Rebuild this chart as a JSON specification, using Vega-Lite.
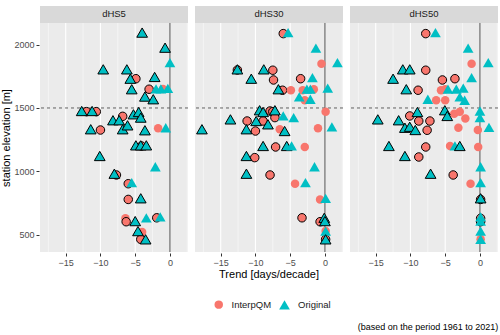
{
"$schema": "https://vega.github.io/schema/vega-lite/v6.json",
"padding": {"left": 0, "top": 5, "right": 4, "bottom": 5},
"background": "white",
"title": {"text": "(based on the period 1961 to 2021)", "orient": "bottom", "anchor": "end", "fontSize": 9, "fontWeight": "normal", "font": "Liberation Sans", "color": "black", "offset": 13},
"datasets": {
"d": [
{"panel":"dHS5","type":"InterpQM","trend":-4.9,"elev":1731,"sig":"1"},
{"panel":"dHS5","type":"InterpQM","trend":-3.0,"elev":1648,"sig":"1"},
{"panel":"dHS5","type":"InterpQM","trend":-1.0,"elev":1650,"sig":"0"},
{"panel":"dHS5","type":"InterpQM","trend":-12.0,"elev":1471,"sig":"1"},
{"panel":"dHS5","type":"InterpQM","trend":-10.6,"elev":1471,"sig":"1"},
{"panel":"dHS5","type":"InterpQM","trend":-6.8,"elev":1434,"sig":"1"},
{"panel":"dHS5","type":"InterpQM","trend":-10.0,"elev":1326,"sig":"1"},
{"panel":"dHS5","type":"InterpQM","trend":-1.7,"elev":1340,"sig":"0"},
{"panel":"dHS5","type":"InterpQM","trend":-4.1,"elev":1200,"sig":"1"},
{"panel":"dHS5","type":"InterpQM","trend":-7.7,"elev":971,"sig":"1"},
{"panel":"dHS5","type":"InterpQM","trend":-6.0,"elev":902,"sig":"1"},
{"panel":"dHS5","type":"InterpQM","trend":-6.0,"elev":778,"sig":"1"},
{"panel":"dHS5","type":"InterpQM","trend":-6.4,"elev":629,"sig":"0"},
{"panel":"dHS5","type":"InterpQM","trend":-6.3,"elev":602,"sig":"1"},
{"panel":"dHS5","type":"InterpQM","trend":-1.9,"elev":633,"sig":"1"},
{"panel":"dHS5","type":"InterpQM","trend":-4.0,"elev":520,"sig":"0"},
{"panel":"dHS5","type":"InterpQM","trend":-4.2,"elev":463,"sig":"1"},
{"panel":"dHS30","type":"InterpQM","trend":-6.0,"elev":2087,"sig":"1"},
{"panel":"dHS30","type":"InterpQM","trend":-0.5,"elev":1850,"sig":"0"},
{"panel":"dHS30","type":"InterpQM","trend":-12.6,"elev":1800,"sig":"1"},
{"panel":"dHS30","type":"InterpQM","trend":-7.5,"elev":1798,"sig":"1"},
{"panel":"dHS30","type":"InterpQM","trend":-7.4,"elev":1721,"sig":"1"},
{"panel":"dHS30","type":"InterpQM","trend":-3.5,"elev":1731,"sig":"1"},
{"panel":"dHS30","type":"InterpQM","trend":-6.1,"elev":1640,"sig":"1"},
{"panel":"dHS30","type":"InterpQM","trend":-4.9,"elev":1640,"sig":"0"},
{"panel":"dHS30","type":"InterpQM","trend":-3.2,"elev":1640,"sig":"0"},
{"panel":"dHS30","type":"InterpQM","trend":-1.6,"elev":1648,"sig":"0"},
{"panel":"dHS30","type":"InterpQM","trend":-2.9,"elev":1561,"sig":"0"},
{"panel":"dHS30","type":"InterpQM","trend":0.1,"elev":1471,"sig":"0"},
{"panel":"dHS30","type":"InterpQM","trend":-7.9,"elev":1476,"sig":"1"},
{"panel":"dHS30","type":"InterpQM","trend":-7.5,"elev":1471,"sig":"1"},
{"panel":"dHS30","type":"InterpQM","trend":-11.2,"elev":1397,"sig":"1"},
{"panel":"dHS30","type":"InterpQM","trend":-7.2,"elev":1424,"sig":"1"},
{"panel":"dHS30","type":"InterpQM","trend":-8.9,"elev":1397,"sig":"1"},
{"panel":"dHS30","type":"InterpQM","trend":-1.0,"elev":1340,"sig":"0"},
{"panel":"dHS30","type":"InterpQM","trend":-10.0,"elev":1318,"sig":"1"},
{"panel":"dHS30","type":"InterpQM","trend":-6.5,"elev":1332,"sig":"0"},
{"panel":"dHS30","type":"InterpQM","trend":-7.1,"elev":1192,"sig":"1"},
{"panel":"dHS30","type":"InterpQM","trend":-2.9,"elev":1192,"sig":"0"},
{"panel":"dHS30","type":"InterpQM","trend":-10.1,"elev":1108,"sig":"1"},
{"panel":"dHS30","type":"InterpQM","trend":-7.9,"elev":971,"sig":"1"},
{"panel":"dHS30","type":"InterpQM","trend":-4.3,"elev":902,"sig":"0"},
{"panel":"dHS30","type":"InterpQM","trend":-0.7,"elev":778,"sig":"0"},
{"panel":"dHS30","type":"InterpQM","trend":-3.3,"elev":633,"sig":"1"},
{"panel":"dHS30","type":"InterpQM","trend":-0.7,"elev":602,"sig":"1"},
{"panel":"dHS30","type":"InterpQM","trend":0.1,"elev":528,"sig":"0"},
{"panel":"dHS30","type":"InterpQM","trend":0.1,"elev":463,"sig":"1"},
{"panel":"dHS50","type":"InterpQM","trend":-7.8,"elev":2087,"sig":"1"},
{"panel":"dHS50","type":"InterpQM","trend":-1.2,"elev":1850,"sig":"0"},
{"panel":"dHS50","type":"InterpQM","trend":-7.8,"elev":1798,"sig":"1"},
{"panel":"dHS50","type":"InterpQM","trend":-5.4,"elev":1721,"sig":"1"},
{"panel":"dHS50","type":"InterpQM","trend":-3.6,"elev":1731,"sig":"1"},
{"panel":"dHS50","type":"InterpQM","trend":-8.9,"elev":1640,"sig":"1"},
{"panel":"dHS50","type":"InterpQM","trend":-5.6,"elev":1640,"sig":"0"},
{"panel":"dHS50","type":"InterpQM","trend":-5.0,"elev":1648,"sig":"0"},
{"panel":"dHS50","type":"InterpQM","trend":-6.3,"elev":1561,"sig":"0"},
{"panel":"dHS50","type":"InterpQM","trend":-5.0,"elev":1561,"sig":"0"},
{"panel":"dHS50","type":"InterpQM","trend":-10.1,"elev":1437,"sig":"1"},
{"panel":"dHS50","type":"InterpQM","trend":-8.8,"elev":1397,"sig":"1"},
{"panel":"dHS50","type":"InterpQM","trend":-7.2,"elev":1397,"sig":"1"},
{"panel":"dHS50","type":"InterpQM","trend":-3.7,"elev":1455,"sig":"0"},
{"panel":"dHS50","type":"InterpQM","trend":-2.9,"elev":1471,"sig":"0"},
{"panel":"dHS50","type":"InterpQM","trend":-2.1,"elev":1416,"sig":"0"},
{"panel":"dHS50","type":"InterpQM","trend":-7.6,"elev":1324,"sig":"1"},
{"panel":"dHS50","type":"InterpQM","trend":-3.1,"elev":1344,"sig":"0"},
{"panel":"dHS50","type":"InterpQM","trend":-0.3,"elev":1326,"sig":"0"},
{"panel":"dHS50","type":"InterpQM","trend":-7.8,"elev":1192,"sig":"1"},
{"panel":"dHS50","type":"InterpQM","trend":-4.3,"elev":1200,"sig":"0"},
{"panel":"dHS50","type":"InterpQM","trend":-0.25,"elev":1192,"sig":"0"},
{"panel":"dHS50","type":"InterpQM","trend":-8.8,"elev":1113,"sig":"1"},
{"panel":"dHS50","type":"InterpQM","trend":-3.85,"elev":971,"sig":"1"},
{"panel":"dHS50","type":"InterpQM","trend":-1.35,"elev":902,"sig":"0"},
{"panel":"dHS50","type":"InterpQM","trend":0.1,"elev":778,"sig":"1"},
{"panel":"dHS50","type":"InterpQM","trend":0.1,"elev":629,"sig":"1"},
{"panel":"dHS50","type":"InterpQM","trend":0.1,"elev":602,"sig":"1"},
{"panel":"dHS50","type":"InterpQM","trend":0.1,"elev":463,"sig":"0"},
{"panel":"dHS5","type":"Original","trend":-4.0,"elev":2095,"sig":"1"},
{"panel":"dHS5","type":"Original","trend":-0.7,"elev":1976,"sig":"1"},
{"panel":"dHS5","type":"Original","trend":0.0,"elev":1858,"sig":"0"},
{"panel":"dHS5","type":"Original","trend":-9.6,"elev":1805,"sig":"1"},
{"panel":"dHS5","type":"Original","trend":-6.2,"elev":1805,"sig":"1"},
{"panel":"dHS5","type":"Original","trend":-5.7,"elev":1731,"sig":"1"},
{"panel":"dHS5","type":"Original","trend":-2.2,"elev":1745,"sig":"1"},
{"panel":"dHS5","type":"Original","trend":-5.5,"elev":1648,"sig":"1"},
{"panel":"dHS5","type":"Original","trend":-2.0,"elev":1650,"sig":"0"},
{"panel":"dHS5","type":"Original","trend":-1.3,"elev":1650,"sig":"0"},
{"panel":"dHS5","type":"Original","trend":-0.3,"elev":1655,"sig":"0"},
{"panel":"dHS5","type":"Original","trend":-3.6,"elev":1590,"sig":"1"},
{"panel":"dHS5","type":"Original","trend":-2.4,"elev":1569,"sig":"1"},
{"panel":"dHS5","type":"Original","trend":-12.7,"elev":1476,"sig":"1"},
{"panel":"dHS5","type":"Original","trend":-11.2,"elev":1476,"sig":"1"},
{"panel":"dHS5","type":"Original","trend":-8.2,"elev":1403,"sig":"1"},
{"panel":"dHS5","type":"Original","trend":-7.3,"elev":1403,"sig":"1"},
{"panel":"dHS5","type":"Original","trend":-5.25,"elev":1450,"sig":"1"},
{"panel":"dHS5","type":"Original","trend":-4.5,"elev":1468,"sig":"1"},
{"panel":"dHS5","type":"Original","trend":-4.2,"elev":1424,"sig":"1"},
{"panel":"dHS5","type":"Original","trend":-11.4,"elev":1332,"sig":"1"},
{"panel":"dHS5","type":"Original","trend":-6.8,"elev":1332,"sig":"1"},
{"panel":"dHS5","type":"Original","trend":-6.1,"elev":1363,"sig":"1"},
{"panel":"dHS5","type":"Original","trend":-3.6,"elev":1324,"sig":"1"},
{"panel":"dHS5","type":"Original","trend":-0.6,"elev":1344,"sig":"0"},
{"panel":"dHS5","type":"Original","trend":-4.9,"elev":1205,"sig":"1"},
{"panel":"dHS5","type":"Original","trend":-4.2,"elev":1205,"sig":"1"},
{"panel":"dHS5","type":"Original","trend":-3.4,"elev":1205,"sig":"1"},
{"panel":"dHS5","type":"Original","trend":-10.1,"elev":1121,"sig":"1"},
{"panel":"dHS5","type":"Original","trend":-2.1,"elev":1036,"sig":"0"},
{"panel":"dHS5","type":"Original","trend":-8.0,"elev":981,"sig":"1"},
{"panel":"dHS5","type":"Original","trend":-5.5,"elev":910,"sig":"0"},
{"panel":"dHS5","type":"Original","trend":-4.2,"elev":787,"sig":"1"},
{"panel":"dHS5","type":"Original","trend":-5.0,"elev":607,"sig":"1"},
{"panel":"dHS5","type":"Original","trend":-3.4,"elev":633,"sig":"0"},
{"panel":"dHS5","type":"Original","trend":-1.4,"elev":641,"sig":"0"},
{"panel":"dHS5","type":"Original","trend":-4.6,"elev":528,"sig":"1"},
{"panel":"dHS5","type":"Original","trend":-3.5,"elev":463,"sig":"1"},
{"panel":"dHS30","type":"Original","trend":-5.3,"elev":2095,"sig":"0"},
{"panel":"dHS30","type":"Original","trend":-1.3,"elev":1972,"sig":"0"},
{"panel":"dHS30","type":"Original","trend":1.8,"elev":1858,"sig":"0"},
{"panel":"dHS30","type":"Original","trend":-12.6,"elev":1805,"sig":"1"},
{"panel":"dHS30","type":"Original","trend":-8.8,"elev":1805,"sig":"1"},
{"panel":"dHS30","type":"Original","trend":-10.6,"elev":1731,"sig":"1"},
{"panel":"dHS30","type":"Original","trend":-1.8,"elev":1739,"sig":"0"},
{"panel":"dHS30","type":"Original","trend":-6.7,"elev":1648,"sig":"1"},
{"panel":"dHS30","type":"Original","trend":-2.6,"elev":1648,"sig":"0"},
{"panel":"dHS30","type":"Original","trend":-2.1,"elev":1648,"sig":"0"},
{"panel":"dHS30","type":"Original","trend":0.4,"elev":1656,"sig":"0"},
{"panel":"dHS30","type":"Original","trend":-3.7,"elev":1587,"sig":"0"},
{"panel":"dHS30","type":"Original","trend":-2.1,"elev":1569,"sig":"0"},
{"panel":"dHS30","type":"Original","trend":-9.4,"elev":1482,"sig":"1"},
{"panel":"dHS30","type":"Original","trend":-8.9,"elev":1468,"sig":"1"},
{"panel":"dHS30","type":"Original","trend":-7.2,"elev":1482,"sig":"1"},
{"panel":"dHS30","type":"Original","trend":-6.0,"elev":1437,"sig":"0"},
{"panel":"dHS30","type":"Original","trend":-4.5,"elev":1424,"sig":"0"},
{"panel":"dHS30","type":"Original","trend":-13.6,"elev":1410,"sig":"1"},
{"panel":"dHS30","type":"Original","trend":-9.9,"elev":1397,"sig":"1"},
{"panel":"dHS30","type":"Original","trend":-8.2,"elev":1371,"sig":"1"},
{"panel":"dHS30","type":"Original","trend":-17.7,"elev":1332,"sig":"1"},
{"panel":"dHS30","type":"Original","trend":-11.3,"elev":1332,"sig":"1"},
{"panel":"dHS30","type":"Original","trend":-5.8,"elev":1318,"sig":"1"},
{"panel":"dHS30","type":"Original","trend":1.0,"elev":1350,"sig":"0"},
{"panel":"dHS30","type":"Original","trend":-8.9,"elev":1200,"sig":"1"},
{"panel":"dHS30","type":"Original","trend":-5.5,"elev":1200,"sig":"1"},
{"panel":"dHS30","type":"Original","trend":-4.8,"elev":1200,"sig":"0"},
{"panel":"dHS30","type":"Original","trend":-11.3,"elev":1121,"sig":"1"},
{"panel":"dHS30","type":"Original","trend":-1.5,"elev":1036,"sig":"0"},
{"panel":"dHS30","type":"Original","trend":-11.3,"elev":981,"sig":"1"},
{"panel":"dHS30","type":"Original","trend":-2.8,"elev":910,"sig":"0"},
{"panel":"dHS30","type":"Original","trend":0.1,"elev":787,"sig":"0"},
{"panel":"dHS30","type":"Original","trend":-0.1,"elev":633,"sig":"1"},
{"panel":"dHS30","type":"Original","trend":0.0,"elev":607,"sig":"1"},
{"panel":"dHS30","type":"Original","trend":0.1,"elev":528,"sig":"0"},
{"panel":"dHS30","type":"Original","trend":0.1,"elev":463,"sig":"1"},
{"panel":"dHS50","type":"Original","trend":-6.4,"elev":2095,"sig":"0"},
{"panel":"dHS50","type":"Original","trend":-1.7,"elev":1972,"sig":"0"},
{"panel":"dHS50","type":"Original","trend":1.2,"elev":1858,"sig":"0"},
{"panel":"dHS50","type":"Original","trend":-11.1,"elev":1805,"sig":"1"},
{"panel":"dHS50","type":"Original","trend":-10.1,"elev":1805,"sig":"1"},
{"panel":"dHS50","type":"Original","trend":-12.5,"elev":1731,"sig":"1"},
{"panel":"dHS50","type":"Original","trend":-1.2,"elev":1739,"sig":"0"},
{"panel":"dHS50","type":"Original","trend":-10.6,"elev":1648,"sig":"1"},
{"panel":"dHS50","type":"Original","trend":-4.6,"elev":1648,"sig":"0"},
{"panel":"dHS50","type":"Original","trend":-3.4,"elev":1648,"sig":"0"},
{"panel":"dHS50","type":"Original","trend":-2.4,"elev":1656,"sig":"0"},
{"panel":"dHS50","type":"Original","trend":-7.5,"elev":1569,"sig":"0"},
{"panel":"dHS50","type":"Original","trend":-2.9,"elev":1587,"sig":"0"},
{"panel":"dHS50","type":"Original","trend":-2.2,"elev":1561,"sig":"0"},
{"panel":"dHS50","type":"Original","trend":-14.7,"elev":1410,"sig":"1"},
{"panel":"dHS50","type":"Original","trend":-11.7,"elev":1403,"sig":"1"},
{"panel":"dHS50","type":"Original","trend":-9.0,"elev":1468,"sig":"1"},
{"panel":"dHS50","type":"Original","trend":-5.05,"elev":1482,"sig":"1"},
{"panel":"dHS50","type":"Original","trend":-4.7,"elev":1437,"sig":"1"},
{"panel":"dHS50","type":"Original","trend":0.0,"elev":1476,"sig":"0"},
{"panel":"dHS50","type":"Original","trend":0.0,"elev":1424,"sig":"0"},
{"panel":"dHS50","type":"Original","trend":-10.8,"elev":1344,"sig":"1"},
{"panel":"dHS50","type":"Original","trend":-10.1,"elev":1352,"sig":"1"},
{"panel":"dHS50","type":"Original","trend":-9.3,"elev":1326,"sig":"1"},
{"panel":"dHS50","type":"Original","trend":1.3,"elev":1347,"sig":"0"},
{"panel":"dHS50","type":"Original","trend":-13.1,"elev":1200,"sig":"1"},
{"panel":"dHS50","type":"Original","trend":-3.6,"elev":1200,"sig":"0"},
{"panel":"dHS50","type":"Original","trend":-2.9,"elev":1200,"sig":"1"},
{"panel":"dHS50","type":"Original","trend":-10.8,"elev":1121,"sig":"1"},
{"panel":"dHS50","type":"Original","trend":0.1,"elev":1036,"sig":"0"},
{"panel":"dHS50","type":"Original","trend":-7.1,"elev":981,"sig":"1"},
{"panel":"dHS50","type":"Original","trend":0.1,"elev":910,"sig":"0"},
{"panel":"dHS50","type":"Original","trend":0.1,"elev":787,"sig":"1"},
{"panel":"dHS50","type":"Original","trend":0.1,"elev":641,"sig":"0"},
{"panel":"dHS50","type":"Original","trend":0.1,"elev":607,"sig":"0"},
{"panel":"dHS50","type":"Original","trend":0.1,"elev":528,"sig":"0"},
{"panel":"dHS50","type":"Original","trend":0.1,"elev":463,"sig":"0"}
]},
"data": {"name": "d"},
"facet": {"column": {"field": "panel", "type": "nominal", "sort": ["dHS5", "dHS30", "dHS50"], "title": "Trend [days/decade]",
  "header": {"labels": false, "titleOrient": "bottom", "titleFontSize": 11, "titleFont": "Liberation Sans", "titleFontWeight": "normal", "titleColor": "black", "titlePadding": -8}}},
"spacing": 5,
"spec": {
  "width": 148,
  "height": 246,
  "layer": [
    {"transform": [{"aggregate": [{"op": "count", "as": "n"}], "groupby": ["panel"]}],
     "mark": {"type": "rule", "color": "white", "strokeWidth": 0.5},
     "encoding": {"x": {"datum": -17.5, "type": "quantitative", "title": null,
             "scale": {"domain": [-18.7, 2.6], "nice": false, "zero": false},
             "axis": {"values": [-15, -10, -5, 0], "grid": false}}}},
    {"transform": [{"aggregate": [{"op": "count", "as": "n"}], "groupby": ["panel"]}],
     "mark": {"type": "rule", "color": "white", "strokeWidth": 1.1},
     "encoding": {"x": {"datum": -15, "type": "quantitative"}}},
    {"transform": [{"aggregate": [{"op": "count", "as": "n"}], "groupby": ["panel"]}],
     "mark": {"type": "rule", "color": "white", "strokeWidth": 0.5},
     "encoding": {"x": {"datum": -12.5, "type": "quantitative"}}},
    {"transform": [{"aggregate": [{"op": "count", "as": "n"}], "groupby": ["panel"]}],
     "mark": {"type": "rule", "color": "white", "strokeWidth": 1.1},
     "encoding": {"x": {"datum": -10, "type": "quantitative"}}},
    {"transform": [{"aggregate": [{"op": "count", "as": "n"}], "groupby": ["panel"]}],
     "mark": {"type": "rule", "color": "white", "strokeWidth": 0.5},
     "encoding": {"x": {"datum": -7.5, "type": "quantitative"}}},
    {"transform": [{"aggregate": [{"op": "count", "as": "n"}], "groupby": ["panel"]}],
     "mark": {"type": "rule", "color": "white", "strokeWidth": 1.1},
     "encoding": {"x": {"datum": -5, "type": "quantitative"}}},
    {"transform": [{"aggregate": [{"op": "count", "as": "n"}], "groupby": ["panel"]}],
     "mark": {"type": "rule", "color": "white", "strokeWidth": 0.5},
     "encoding": {"x": {"datum": -2.5, "type": "quantitative"}}},
    {"transform": [{"aggregate": [{"op": "count", "as": "n"}], "groupby": ["panel"]}],
     "mark": {"type": "rule", "color": "white", "strokeWidth": 0.5},
     "encoding": {"x": {"datum": 2.5, "type": "quantitative"}}},
    {"transform": [{"aggregate": [{"op": "count", "as": "n"}], "groupby": ["panel"]}],
     "mark": {"type": "rect", "fill": "#D9D9D9"},
     "encoding": {"y": {"datum": 2171, "type": "quantitative"}, "y2": {"datum": 2305}}},
    {"transform": [{"aggregate": [{"op": "count", "as": "n"}], "groupby": ["panel"]}],
     "mark": {"type": "text", "fontSize": 9.5, "color": "#1A1A1A", "font": "Liberation Sans"},
     "encoding": {"y": {"datum": 2238, "type": "quantitative"}, "text": {"field": "panel", "type": "nominal"}}},
    {"transform": [{"aggregate": [{"op": "count", "as": "n"}], "groupby": ["panel"]}],
     "mark": {"type": "rule", "strokeDash": [3, 3], "color": "black", "strokeWidth": 0.6},
     "encoding": {"y": {"datum": 1500, "type": "quantitative"}}},
    {"transform": [{"aggregate": [{"op": "count", "as": "n"}], "groupby": ["panel"]}],
     "mark": {"type": "rule", "color": "#555555", "strokeWidth": 1},
     "encoding": {"x": {"datum": 0, "type": "quantitative"},
                  "y": {"datum": 363, "type": "quantitative"}, "y2": {"datum": 2171}}},
    {"mark": {"type": "point", "filled": true, "opacity": 1, "stroke": "black"},
     "encoding": {
       "x": {"field": "trend", "type": "quantitative", "title": null,
             "scale": {"domain": [-18.7, 2.6], "nice": false, "zero": false},
             "axis": {"values": [-15, -10, -5, 0], "grid": false}},
       "y": {"field": "elev", "type": "quantitative", "title": "station elevation [m]",
             "scale": {"domain": [363, 2305], "nice": false, "zero": false},
             "axis": {"values": [500, 750, 1000, 1250, 1500, 1750, 2000], "format": "d", "titleY": 131.5, "titlePadding": 2,
                      "labelExpr": "datum.value % 500 === 0 ? datum.label : ''",
                      "tickOpacity": {"condition": {"test": "datum.value % 500 === 0", "value": 1}, "value": 0},
                      "gridWidth": {"condition": {"test": "datum.value % 500 === 0", "value": 1.1}, "value": 0.5}}},
       "color": {"field": "type", "type": "nominal",
                 "scale": {"domain": ["InterpQM", "Original"], "range": ["#F8766D", "#00BFC4"]},
                 "legend": {"title": null, "orient": "none", "direction": "horizontal", "legendX": 174, "legendY": 293,
                            "labelFontSize": 9.5, "labelColor": "#1A1A1A", "labelFont": "Liberation Sans",
                            "symbolSize": 70, "symbolStrokeWidth": 0, "columnPadding": 7, "labelOffset": 8}},
       "shape": {"field": "type", "type": "nominal",
                 "scale": {"domain": ["InterpQM", "Original"], "range": ["circle", "triangle-up"]}},
       "size": {"field": "type", "type": "nominal", "scale": {"domain": ["InterpQM", "Original"], "range": [72, 115]}, "legend": null},
       "strokeWidth": {"field": "sig", "type": "nominal", "scale": {"domain": ["1", "0"], "range": [1, 0]}, "legend": null}
     }}
  ]
},
"config": {
  "view": {"fill": "#EBEBEB", "stroke": null},
  "axis": {"domain": false, "gridColor": "white", "tickColor": "#333333", "tickSize": 3, "labelColor": "#4D4D4D",
           "labelFontSize": 9, "labelFont": "Liberation Sans", "titleFont": "Liberation Sans", "titleFontWeight": "normal",
           "titleFontSize": 11, "titleColor": "black", "labelPadding": 2, "titlePadding": 4}
}
}
